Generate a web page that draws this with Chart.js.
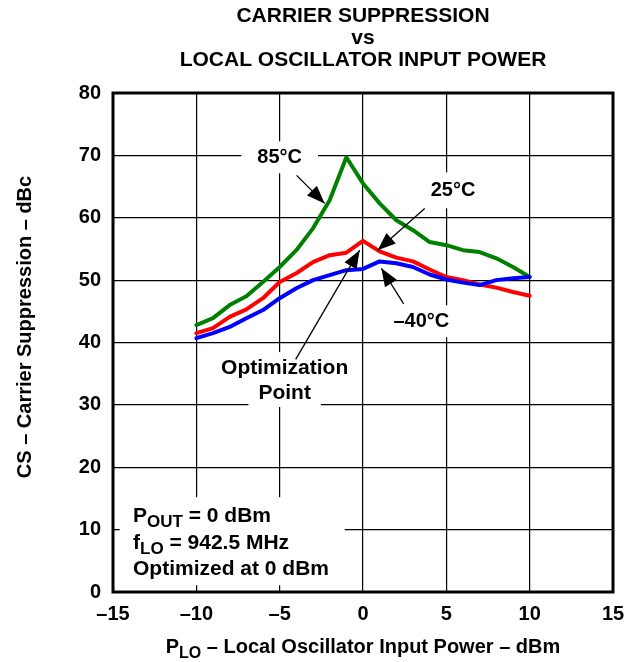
<!DOCTYPE html>
<html>
<head>
<meta charset="utf-8">
<script src="https://cdn.jsdelivr.net/npm/chart.js@4/dist/chart.umd.min.js"></script>
<style>
  html, body { margin: 0; padding: 0; background: #fff; }
  #wrap { width: 626px; height: 662px; }
</style>
</head>
<body>
<div id="wrap"><canvas id="cs"></canvas></div>
<script>
// ---------- data ----------
const pLO = [-10, -9, -8, -7, -6, -5, -4, -3, -2, -1, 0, 1, 2, 3, 4, 5, 6, 7, 8, 9, 10];
const cs85 = [42.8, 43.9, 46.0, 47.4, 49.7, 52.1, 54.8, 58.3, 62.8, 69.7, 65.5, 62.3, 59.6, 58.0, 56.1, 55.6, 54.8, 54.5, 53.5, 52.1, 50.5];
const cs25 = [41.5, 42.3, 44.1, 45.3, 47.1, 49.7, 51.1, 52.9, 54.0, 54.4, 56.3, 54.6, 53.6, 53.0, 51.7, 50.5, 50.0, 49.3, 48.8, 48.1, 47.5];
const csM40 = [40.7, 41.5, 42.5, 43.9, 45.2, 47.1, 48.7, 50.0, 50.8, 51.6, 51.8, 53.0, 52.7, 52.1, 50.9, 50.1, 49.6, 49.2, 50.0, 50.3, 50.5];

const xTicks = [-15, -10, -5, 0, 5, 10, 15];
const yTicks = [0, 10, 20, 30, 40, 50, 60, 70, 80];

const FONT = "'Liberation Sans', Arial, Helvetica, sans-serif";

// labels/arrows placed in data units
const labels = [
  { text: "85\u00B0C", x: -5.0, y: 69.7, size: 20, padX: 16, padY: 16 },
  { text: "25\u00B0C", x: 5.4, y: 64.4, size: 20, padX: 16, padY: 18 },
  { text: "\u201340\u00B0C", x: 3.5, y: 43.4, size: 20, padX: 12, padY: 16 },
  { text: "Optimization", x: -4.7, y: 35.9, size: 21, padX: 8, padY: 16 },
  { text: "Point", x: -4.7, y: 31.9, size: 21, padX: 10, padY: 14 }
];
const arrows = [
  { from: [-3.98, 66.8], to: [-2.3, 62.3] },
  { from: [3.7, 61.5], to: [0.88, 54.8] },
  { from: [2.44, 46.2], to: [1.1, 51.9] },
  { from: [-4.04, 37.3], to: [-0.2, 54.8] }
];

const toData = (vals) => vals.map((v, i) => ({ x: pLO[i], y: v }));

// draw text pieces with subscripts: [[text, isSub], ...]
function drawRich(ctx, parts, x, y, size, align) {
  ctx.save();
  ctx.textBaseline = "middle";
  ctx.textAlign = "left";
  let total = 0;
  parts.forEach(([t, sub]) => {
    ctx.font = "bold " + (sub ? Math.round(size * 0.8) : size) + "px " + FONT;
    total += ctx.measureText(t).width;
  });
  let cx = align === "center" ? x - total / 2 : x;
  parts.forEach(([t, sub]) => {
    ctx.font = "bold " + (sub ? Math.round(size * 0.8) : size) + "px " + FONT;
    ctx.fillText(t, cx, sub ? y + size * 0.32 : y);
    cx += ctx.measureText(t).width;
  });
  ctx.restore();
  return total;
}

function arrowHead(ctx, x0, y0, x1, y1) {
  const a = Math.atan2(y1 - y0, x1 - x0);
  const len = 18, half = 7;
  ctx.beginPath();
  ctx.moveTo(x1, y1);
  ctx.lineTo(x1 - len * Math.cos(a) + half * Math.sin(a), y1 - len * Math.sin(a) - half * Math.cos(a));
  ctx.lineTo(x1 - len * Math.cos(a) - half * Math.sin(a), y1 - len * Math.sin(a) + half * Math.cos(a));
  ctx.closePath();
  ctx.fill();
}

const decor = {
  id: "decor",
  beforeDatasetsDraw(chart) {
    const { ctx, scales: { x, y } } = chart;
    ctx.save();
    ctx.fillStyle = "#fff";
    labels.forEach(l => {
      ctx.font = "bold " + l.size + "px " + FONT;
      const w = ctx.measureText(l.text).width;
      const px = x.getPixelForValue(l.x), py = y.getPixelForValue(l.y);
      ctx.fillRect(px - w / 2 - l.padX, py - l.padY, w + 2 * l.padX, 2 * l.padY);
    });
    // conditions box
    ctx.fillRect(x.getPixelForValue(-14.6), y.getPixelForValue(15.2), 225, 88);
    ctx.restore();
  },
  afterDatasetsDraw(chart) {
    const { ctx, chartArea: ca, scales: { x, y } } = chart;
    ctx.save();
    // frame
    ctx.strokeStyle = "#000";
    ctx.lineWidth = 3;
    ctx.strokeRect(ca.left, ca.top, ca.right - ca.left, ca.bottom - ca.top);

    ctx.fillStyle = "#000";
    ctx.textAlign = "center";
    ctx.textBaseline = "middle";
    labels.forEach(l => {
      ctx.font = "bold " + l.size + "px " + FONT;
      ctx.fillText(l.text, x.getPixelForValue(l.x), y.getPixelForValue(l.y));
    });

    ctx.lineWidth = 1.3;
    arrows.forEach(a => {
      const x0 = x.getPixelForValue(a.from[0]), y0 = y.getPixelForValue(a.from[1]);
      const x1 = x.getPixelForValue(a.to[0]), y1 = y.getPixelForValue(a.to[1]);
      ctx.beginPath();
      ctx.moveTo(x0, y0);
      ctx.lineTo(x1, y1);
      ctx.stroke();
      arrowHead(ctx, x0, y0, x1, y1);
    });

    // test conditions
    const lx = x.getPixelForValue(-13.8);
    drawRich(ctx, [["P", false], ["OUT", true], [" = 0 dBm", false]], lx, y.getPixelForValue(12.2), 21, "left");
    drawRich(ctx, [["f", false], ["LO", true], [" = 942.5 MHz", false]], lx, y.getPixelForValue(7.85), 21, "left");
    drawRich(ctx, [["Optimized at 0 dBm", false]], lx, y.getPixelForValue(3.7), 21, "left");
    ctx.restore();
  },
  afterDraw(chart) {
    const { ctx, chartArea: ca } = chart;
    const cx = (ca.left + ca.right) / 2;
    ctx.save();
    ctx.fillStyle = "#000";
    ctx.textAlign = "center";
    ctx.textBaseline = "middle";
    ctx.font = "bold 21px " + FONT;
    ctx.fillText("CARRIER SUPPRESSION", cx, 16);
    ctx.fillText("vs", cx, 38);
    ctx.fillText("LOCAL OSCILLATOR INPUT POWER", cx, 60);
    // x title
    drawRich(ctx, [["P", false], ["LO", true], [" \u2013 Local Oscillator Input Power \u2013 dBm", false]], cx, 647, 20, "center");
    // y title
    ctx.translate(25, 327);
    ctx.rotate(-Math.PI / 2);
    ctx.font = "bold 20px " + FONT;
    ctx.fillText("CS \u2013 Carrier Suppression \u2013 dBc", 0, 0);
    ctx.restore();
  }
};

const tickFont = { family: FONT, size: 20, weight: "bold" };

new Chart(document.getElementById("cs"), {
  type: "line",
  data: {
    datasets: [
      { label: "-40\u00B0C", data: toData(csM40), borderColor: "#0000ff", order: 0 },
      { label: "25\u00B0C", data: toData(cs25), borderColor: "#ff0000", order: 1 },
      { label: "85\u00B0C", data: toData(cs85), borderColor: "#008000", order: 2 }
    ]
  },
  options: {
    responsive: true,
    maintainAspectRatio: false,
    animation: false,
    devicePixelRatio: 1,
    layout: { padding: { left: 0, top: 93, right: 13, bottom: 0 } },
    elements: {
      line: { borderWidth: 4, tension: 0, borderJoinStyle: "round", borderCapStyle: "round" },
      point: { radius: 0 }
    },
    plugins: { legend: { display: false }, tooltip: { enabled: false } },
    scales: {
      x: {
        type: "linear",
        min: -15, max: 15,
        afterBuildTicks: (s) => { s.ticks = xTicks.map(v => ({ value: v })); },
        afterFit: (s) => { s.height = 70; s.paddingLeft = 0; s.paddingRight = 0; },
        grid: { color: "#000", lineWidth: 1.2, drawTicks: false },
        border: { display: false },
        ticks: {
          color: "#000", font: tickFont, padding: 10, maxRotation: 0,
          callback: (v) => String(v).replace("-", "\u2013")
        }
      },
      y: {
        min: 0, max: 80,
        afterBuildTicks: (s) => { s.ticks = yTicks.map(v => ({ value: v })); },
        afterFit: (s) => { s.width = 113; s.paddingTop = 0; s.paddingBottom = 0; },
        grid: { color: "#000", lineWidth: 1.2, drawTicks: false },
        border: { display: false },
        ticks: { color: "#000", font: tickFont, padding: 12 }
      }
    }
  },
  plugins: [decor]
});
</script>
</body>
</html>
